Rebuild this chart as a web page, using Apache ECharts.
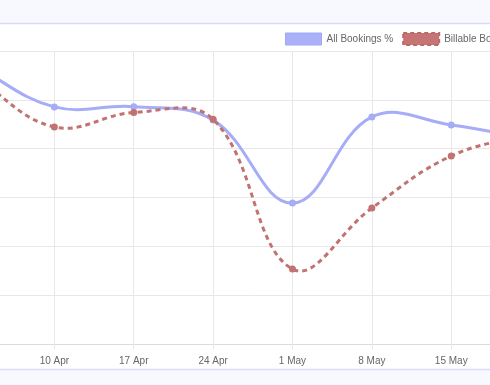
<!DOCTYPE html>
<html>
<head>
<meta charset="utf-8">
<script src="https://cdn.jsdelivr.net/npm/echarts@6/dist/echarts.min.js"></script>
<style>
html,body{margin:0;padding:0;background:#fff;overflow:hidden;width:490px;height:385px;}
#wrap{position:relative;width:490px;height:385px;overflow:hidden;}
#chart{position:absolute;left:-60px;top:0;width:610px;height:385px;}
</style>
</head>
<body>
<div id="wrap"><div id="chart"></div></div>
<script>
const categories = ['3 Apr','10 Apr','17 Apr','24 Apr','1 May','8 May','15 May','22 May'];
const allBookings = [113.9, 97.1, 97.2, 91.7, 57.7, 93.0, 89.7, 84.0];
const billableBookings = [109.4, 88.9, 94.8, 92.0, 30.7, 55.7, 77.0, 86.0];
const seriesNames = ['All Bookings %', 'Billable Bookings %'];

const blue = '#a6adf6';
const red = '#c07371';
const TENSION = 0.4;

function splinePath(pts){
  const n = pts.length;
  const cps = pts.map((cur, i) => {
    const prev = pts[i-1] || cur;
    const next = pts[i+1] || cur;
    const d01 = Math.hypot(cur[0]-prev[0], cur[1]-prev[1]);
    const d12 = Math.hypot(next[0]-cur[0], next[1]-cur[1]);
    let s01 = d01/(d01+d12), s12 = d12/(d01+d12);
    if (!isFinite(s01)) s01 = 0;
    if (!isFinite(s12)) s12 = 0;
    const fa = TENSION*s01, fb = TENSION*s12;
    return {
      prev:[cur[0]-fa*(next[0]-prev[0]), cur[1]-fa*(next[1]-prev[1])],
      next:[cur[0]+fb*(next[0]-prev[0]), cur[1]+fb*(next[1]-prev[1])]
    };
  });
  let d = 'M' + pts[0][0] + ' ' + pts[0][1];
  for (let i = 1; i < n; i++){
    const a = cps[i-1].next, b = cps[i].prev, p = pts[i];
    d += ' C' + a[0] + ' ' + a[1] + ' ' + b[0] + ' ' + b[1] + ' ' + p[0] + ' ' + p[1];
  }
  return d;
}

function makeRender(values, color, dash){
  return function(params, api){
    const pts = values.map((v, j) => api.coord([j, v]));
    const children = [];
    if (params.dataIndex === 0){
      children.push({type:'path', shape:{pathData: splinePath(pts)},
        style:{fill:null, stroke:color, lineWidth:3, lineDash:dash, lineCap:'butt'}});
    }
    const p = pts[params.dataIndex];
    children.push({type:'circle', shape:{cx:p[0], cy:p[1], r:3.5}, style:{fill:color, stroke:null}});
    return {type:'group', children};
  };
}

const chart = echarts.init(document.getElementById('chart'), null, {renderer:'canvas'});
chart.setOption({
  animation:false,
  textStyle:{fontFamily:'Liberation Sans, Arial, Helvetica, sans-serif'},
  graphic:[
    {type:'rect', shape:{x:0,y:0,width:610,height:23}, style:{fill:'#f8f9fe'}, silent:true, z:-10},
    {type:'line', shape:{x1:0,y1:23.5,x2:610,y2:23.5}, style:{stroke:'#d9dbf8',lineWidth:1.5}, silent:true, z:-10},
    {type:'rect', shape:{x:0,y:370,width:610,height:15}, style:{fill:'#f8f9fe'}, silent:true, z:-10},
    {type:'line', shape:{x1:0,y1:369.5,x2:610,y2:369.5}, style:{stroke:'#d9dbf8',lineWidth:1.5}, silent:true, z:-10}
  ],
  legend:{
    left:340, top:27, width:400,
    orient:'horizontal',
    itemWidth:36, itemHeight:12, itemGap:9,
    icon:'rect',
    textStyle:{color:'#666',fontSize:10},
    data:[
      {name:seriesNames[0], itemStyle:{color:'#abb1f8', borderColor:'#a0a8f4', borderWidth:1}},
      {name:seriesNames[1], itemStyle:{color:'#c47574', borderColor:'#b96a69', borderWidth:2, borderType:[4,3]}}
    ]
  },
  grid:{left:35, right:15, top:51, bottom:41, containLabel:false},
  xAxis:{
    type:'category', boundaryGap:false, data:categories,
    axisLine:{lineStyle:{color:'#dcdcdc',width:1}},
    axisTick:{show:true,length:5,lineStyle:{color:'#e6e6e6'}},
    axisLabel:{color:'#666',fontSize:10,margin:12},
    splitLine:{show:true,lineStyle:{color:'#e8e8e8'}}
  },
  yAxis:{
    type:'value', min:0, max:120, interval:20,
    axisLabel:{show:false}, axisLine:{show:false}, axisTick:{show:false},
    splitLine:{lineStyle:{color:'#e8e8e8'}}
  },
  series:[
    {name:seriesNames[0], type:'custom', data:allBookings.map((v,i)=>[i,v]),
     encode:{x:0,y:1}, itemStyle:{color:blue}, clip:false,
     renderItem:makeRender(allBookings, blue, null)},
    {name:seriesNames[1], type:'custom', data:billableBookings.map((v,i)=>[i,v]),
     encode:{x:0,y:1}, itemStyle:{color:red}, clip:false,
     renderItem:makeRender(billableBookings, red, [5,4])}
  ]
});
</script>
</body>
</html>
